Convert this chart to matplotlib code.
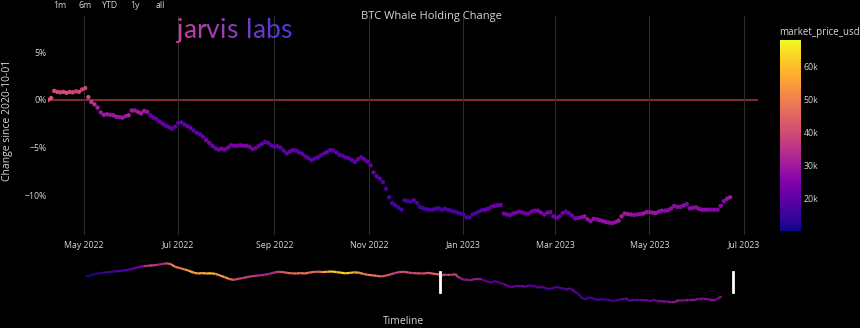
import numpy as np
import pandas as pd
import matplotlib
matplotlib.use("Agg")
import matplotlib.pyplot as plt
import matplotlib.dates as mdates
import matplotlib.cm as cm
from matplotlib.colors import Normalize, to_rgb
from matplotlib.collections import LineCollection
from matplotlib.ticker import FuncFormatter

plt.rcParams['font.family'] = ['Open Sans', 'DejaVu Sans']

# whale holding change (%), every 2 days from 2022-04-08
change = [
    0.0, 0.2, 0.95, 0.85, 0.8, 0.85, 0.75, 0.85, 0.8, 0.9,
    0.85, 1.1, 1.25, 0.3, -0.2, -0.45, -0.8, -1.3, -1.55, -1.5,
    -1.55, -1.6, -1.75, -1.8, -1.85, -1.7, -1.6, -1.1, -1.1, -1.25,
    -1.4, -1.15, -1.25, -1.6, -1.85, -2.0, -2.25, -2.5, -2.7, -2.85,
    -3.0, -2.8, -2.4, -2.35, -2.55, -2.75, -2.95, -3.2, -3.45, -3.6,
    -3.85, -4.2, -4.5, -4.8, -5.05, -5.2, -5.1, -5.2, -5.0, -4.75,
    -4.8, -4.8, -4.75, -4.8, -4.8, -4.9, -5.15, -5.05, -4.8, -4.6,
    -4.4, -4.5, -4.75, -4.9, -4.85, -5.0, -5.3, -5.6, -5.4, -5.25,
    -5.3, -5.5, -5.65, -5.9, -6.1, -6.3, -6.15, -6.0, -5.8, -5.6,
    -5.45, -5.25, -5.3, -5.5, -5.75, -5.85, -6.0, -6.1, -6.3, -6.5,
    -6.2, -6.0, -6.2, -6.45, -6.85, -7.6, -8.0, -8.25, -8.6, -9.3,
    -10.2, -10.8, -11.0, -11.25, -11.5, -10.5, -10.6, -10.65, -10.5, -10.8,
    -11.2, -11.35, -11.45, -11.5, -11.5, -11.4, -11.35, -11.5, -11.4, -11.5,
    -11.6, -11.7, -11.8, -11.9, -12.0, -12.3, -12.3, -12.0, -11.85, -11.7,
    -11.55, -11.5, -11.4, -11.2, -11.1, -11.05, -11.0, -11.9, -12.0, -12.05,
    -11.9, -11.8, -11.7, -11.8, -11.9, -11.9, -11.7, -11.6, -11.6, -11.8,
    -12.0, -11.8, -11.75, -12.2, -12.35, -12.2, -11.85, -11.7, -11.85, -12.1,
    -12.4, -12.35, -12.3, -12.2, -12.5, -12.7, -12.45, -12.5, -12.6, -12.7,
    -12.8, -12.85, -12.9, -12.8, -12.65, -12.2, -11.9, -11.95, -12.0, -12.05,
    -12.0, -11.95, -11.9, -11.75, -11.75, -11.8, -11.85, -11.7, -11.6, -11.6,
    -11.55, -11.35, -11.1, -11.2, -11.2, -11.05, -10.9, -11.35, -11.3, -11.25,
    -11.4, -11.5, -11.5, -11.5, -11.5, -11.5, -11.5, -11.1, -10.6, -10.35,
    -10.2,
]

# market price (k USD) on the same days
price = [
    42.3, 42.2, 40.1, 39.9, 40.5, 40.8, 41.5, 39.7, 39.5, 38.1, 39.7, 37.7,
    38.5, 39.7, 36.0, 34.1, 31.0, 28.9, 30.1, 29.8, 28.7, 29.2, 30.3, 29.1, 29.2, 28.6, 31.8,
    29.8, 29.7, 29.9, 31.4, 30.1, 28.4, 22.5, 22.6, 20.5, 20.6, 20.7, 21.1, 21.5, 20.7, 20.1,
    19.3, 19.3, 20.2, 21.6, 21.6, 19.9, 20.2, 20.8, 20.8, 23.4, 23.2, 22.6, 21.3, 22.9, 23.8, 23.3,
    23.0, 22.6, 23.2, 23.8, 23.9, 24.4, 24.3, 23.9, 23.3, 21.2, 21.5, 21.5, 20.3, 19.6, 19.8,
    20.1, 19.8, 19.8, 19.3, 21.4, 21.8, 20.2, 19.7, 20.1, 19.5, 18.5, 19.3, 18.8, 19.1, 19.4,
    19.3, 19.6, 20.2, 19.5, 19.4, 19.0, 19.4, 19.1, 19.5, 19.1, 19.2, 19.6, 20.1, 20.3, 20.8, 20.5,
    20.2, 21.2, 20.9, 18.5, 17.6, 16.8, 16.6, 16.7, 16.7, 16.3, 16.2, 16.6, 16.5, 16.2, 17.2,
    17.1, 17.1, 17.1, 17.2, 17.1, 17.2, 17.8, 16.6, 16.8, 16.9, 16.8, 16.8, 16.9, 16.6, 16.6,
    16.6, 16.7, 16.8, 16.9, 17.2, 17.9, 19.9, 20.9, 21.1, 21.1, 22.8, 22.9, 23.1, 23.1, 23.7, 23.1,
    23.5, 23.3, 22.8, 22.9, 21.6, 21.8, 22.2, 23.5, 24.6, 24.8, 24.2, 23.2, 23.6, 23.1,
    23.5, 22.4, 22.4, 21.7, 20.2, 22.1, 24.7, 25.0, 26.9, 28.2, 27.3, 27.5, 28.0, 27.2, 28.0,
    28.5, 27.8, 28.2, 27.9, 28.3, 30.2, 30.4, 30.3, 29.4, 28.8, 27.3, 27.6, 28.3, 29.5, 29.3,
    28.1, 29.0, 29.5, 28.4, 27.7, 26.9, 26.8, 27.2, 27.4, 26.9, 26.8, 27.2, 26.5, 26.9, 27.7, 27.2,
    27.2, 27.1, 27.2, 26.5, 25.8, 25.9, 25.1, 26.3, 26.3, 28.3, 29.9,
]

# earlier history for the range slider, weekly from 2020-10-01
early_change = [
    0.0, 0.5, 1.2, 1.7, 1.9, 2.2, 2.5, 2.6, 2.9, 3.1,
    3.6, 4.2, 4.8, 5.2, 5.4, 5.6, 5.8, 6.2, 6.6, 6.2,
    4.8, 4.2, 3.6, 2.9, 2.0, 1.5, 1.7, 1.5, 1.6, 1.3,
    0.5, -0.3, -1.2, -1.7, -1.2, -0.8, -0.3, 0.1, 0.4, 0.6,
    0.9, 1.3, 1.9, 2.4, 2.2, 1.8, 1.6, 1.5, 1.7, 1.5,
    2.0, 2.3, 2.4, 2.2, 2.4, 2.5, 2.2, 1.9, 1.6, 1.8,
    2.1, 1.9, 1.3, 0.8, 0.6, 0.3, 0.0, 0.4, 1.0, 1.7,
    2.2, 2.4, 2.0, 1.7, 1.6, 1.5, 1.6, 1.6, 1.3, 1.0,
]
early_price = [
    10.6, 10.9, 11.4, 12.9, 13.3, 15.6, 16.3, 17.8, 17.1, 19.2,
    18.2, 22.8, 23.7, 29.0, 39.4, 39.2, 30.8, 33.1, 36.9, 47.9,
    51.6, 46.3, 48.4, 57.3, 57.6, 52.3, 58.9, 58.0, 63.2, 51.7,
    53.6, 56.4, 49.7, 41.0, 38.4, 39.2, 36.7, 38.1, 34.7, 33.6,
    32.9, 31.8, 32.1, 40.0, 40.9, 44.4, 46.7, 46.9, 49.3, 46.4,
    47.8, 44.9, 43.8, 53.8, 57.4, 62.2, 60.6, 61.1, 64.9, 56.9,
    58.9, 56.5, 47.6, 47.6, 50.8, 47.1, 43.1, 42.6, 40.7, 37.2,
    37.3, 43.6, 40.6, 38.3, 42.5, 39.4, 41.1, 44.0, 45.5, 43.4,
]

buttons = ["1m", "6m", "YTD", "1y", "all"]

W, H = 860, 328
def box(l, t, r, b):
    return [l / W, 1 - b / H, (r - l) / W, (b - t) / H]

txt = '#d6d6d6'
norm = Normalize(10.3, 67.9)
cmap = plt.get_cmap('plasma')

fig = plt.figure(figsize=(W / 100, H / 100), dpi=100, facecolor='black')

dates = pd.date_range('2022-04-08', periods=len(change), freq='2D')
view = (pd.Timestamp('2022-04-08'), pd.Timestamp('2023-07-10'))

ax = fig.add_axes(box(48, 16, 758, 235))
ax.set_facecolor('black')
ax.axhline(0, color='#9e2f3a', lw=1.2, zorder=1)
ax.scatter(dates, change, c=price, cmap=cmap, norm=norm, s=10, linewidths=0, zorder=3)
ax.set_xlim(*view)
ax.set_ylim(-14.15, 8.8)
ax.set_yticks([5, 0, -5, -10])
ax.yaxis.set_major_formatter(FuncFormatter(lambda v, p: f"{v:.0f}%".replace('-', '\u2212')))
ax.xaxis.set_major_locator(mdates.MonthLocator(bymonth=[1, 3, 5, 7, 9, 11]))
ax.xaxis.set_major_formatter(mdates.DateFormatter('%b %Y'))
ax.grid(axis='x', color='#2e2e2e', lw=0.7)
ax.tick_params(length=0, colors=txt, labelsize=6.3)
ax.tick_params(axis='x', pad=4)
ax.tick_params(axis='y', pad=1)
for s in ax.spines.values():
    s.set_visible(False)

# range slider
rs = fig.add_axes(box(48, 255, 758, 305))
rs.set_facecolor('black')
all_dates = np.concatenate([mdates.date2num(pd.date_range('2020-10-01', periods=len(early_change), freq='7D')),
                            mdates.date2num(dates)])
all_change = np.array(early_change + change)
all_price = np.array(early_price + price)
pts = np.column_stack([all_dates, all_change])
segs = np.stack([pts[:-1], pts[1:]], axis=1)
lc = LineCollection(segs, colors=cmap(norm((all_price[:-1] + all_price[1:]) / 2)), linewidths=1.6)
rs.add_collection(lc)
rs.set_xlim(mdates.date2num(pd.Timestamp('2020-08-03')), mdates.date2num(pd.Timestamp('2023-08-18')))
rs.set_ylim(-14.25, 10.75)
for d in view:
    rs.axvline(mdates.date2num(d), ymin=0.26, ymax=0.66, color='white', lw=2)
rs.axis('off')

# colorbar
cax = fig.add_axes(box(780, 40, 801, 231))
cb = fig.colorbar(cm.ScalarMappable(norm=norm, cmap=cmap), cax=cax)
cb.set_ticks([20, 30, 40, 50, 60])
cb.set_ticklabels(['20k', '30k', '40k', '50k', '60k'])
cb.outline.set_visible(False)
cax.tick_params(length=0, colors=txt, labelsize=6.3, pad=2)
fig.text(779 / W, 1 - 32 / H, 'market_price_usd', color=txt, fontsize=7, ha='left', va='center')

# texts
fig.text(431 / W, 1 - 17 / H, 'BTC Whale Holding Change', color=txt, fontsize=8, ha='center', va='center')
fig.text(8 / W, 1 - 120 / H, 'Change since 2020-10-01', color=txt, fontsize=7.5, rotation=90,
         ha='center', va='center')
fig.text(404 / W, 1 - 321 / H, 'Timeline', color=txt, fontsize=7.5, ha='center', va='center')
for i, b in enumerate(buttons):
    fig.text((60 + 25 * i) / W, 1 - 5 / H, b, color=txt, fontsize=6.3, ha='center', va='center')

# logo with a pink-to-blue gradient
renderer = fig.canvas.get_renderer()
c0, c1 = np.array(to_rgb('#c8409e')), np.array(to_rgb('#4c3ad8'))
logo = 'jarvis labs'
x = 177 / W
for i, ch in enumerate(logo):
    if ch == ' ':
        x += 8 / W
        continue
    col = c0 + (c1 - c0) * i / (len(logo) - 1)
    t = fig.text(x, 1 - 38 / H, ch, color=col, fontsize=19, family=['Lato', 'DejaVu Sans'],
                 ha='left', va='baseline')
    x += t.get_window_extent(renderer).width / W

fig.savefig('out.png', dpi=100, facecolor='black')
